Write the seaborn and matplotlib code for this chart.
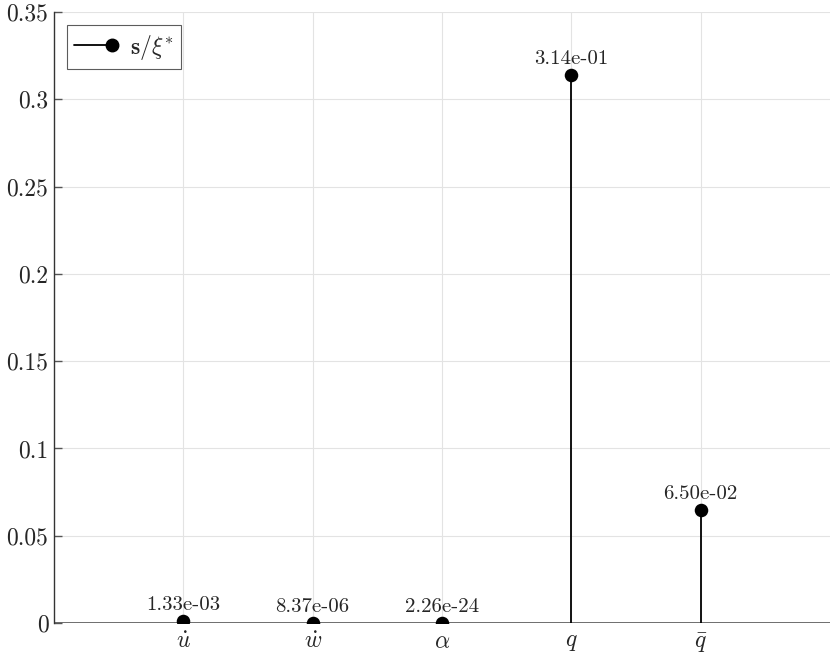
import matplotlib
matplotlib.use("Agg")
import matplotlib.pyplot as plt
from matplotlib.legend_handler import HandlerLine2D
from matplotlib.lines import Line2D
import numpy as np
import pandas as pd
import seaborn as sns


STATES = [r"$\dot{u}$", r"$\dot{w}$", r"$\alpha$", r"$q$", r"$\bar{q}$"]
POSITIONS = [1, 2, 3, 4, 5]
VALUES = [1.33e-03, 8.37e-06, 2.26e-24, 3.14e-01, 6.50e-02]
Y_TICKS = [0, 0.05, 0.1, 0.15, 0.2, 0.25, 0.3, 0.35]
Y_LABELS = ["0", "0.05", "0.1", "0.15", "0.2", "0.25", "0.3", "0.35"]


class EndMarkerHandler(HandlerLine2D):
    """Dibuja el marcador al final de la linea, como en MATLAB."""

    def create_artists(self, legend, orig_handle, xdescent, ydescent,
                       width, height, fontsize, trans):
        artists = super().create_artists(legend, orig_handle, xdescent, ydescent,
                                         width, height, fontsize, trans)
        line = artists[0]
        n = len(line.get_xdata())
        line.set_markevery([n - 1])
        return artists


sns.set_style("whitegrid")
plt.rcParams["font.family"] = ["serif"]
plt.rcParams["font.serif"] = ["cmr10", "DejaVu Serif"]
plt.rcParams["mathtext.fontset"] = "cm"
plt.rcParams["axes.formatter.use_mathtext"] = True

df = pd.DataFrame({"pos": POSITIONS, "value": VALUES})

fig = plt.figure(figsize=(8.3, 6.59), dpi=100)
ax = fig.add_axes([0.065, 0.0546, 0.935, 0.9272])

ax.vlines(df["pos"], 0, df["value"], color="black", linewidth=1.3, zorder=3)
sns.scatterplot(data=df, x="pos", y="value", color="black", s=95,
                edgecolor="black", linewidth=0, zorder=4, ax=ax, legend=False)
ax.axhline(0, color="#555555", linewidth=1.2, zorder=2)

for p, v in zip(POSITIONS, VALUES):
    ax.annotate(f"{v:.2e}", (p, v), xytext=(0, 5), textcoords="offset points",
                ha="center", va="bottom", fontsize=15)

ax.set_xlim(0, 6)
ax.set_ylim(0, 0.35)
ax.set_xticks(POSITIONS)
ax.set_xticklabels(STATES, fontsize=17)
ax.set_yticks(Y_TICKS)
ax.set_yticklabels(Y_LABELS, fontsize=17)
ax.set_xlabel("")
ax.set_ylabel("")
ax.grid(True, color="#e3e3e3", linewidth=0.8)
for side in ["top", "right", "bottom"]:
    ax.spines[side].set_visible(False)
ax.spines["left"].set_color("#333333")
ax.spines["left"].set_linewidth(1.0)
ax.tick_params(axis="y", direction="in", length=6, width=1.0, left=True,
               color="#555555", pad=4)
ax.tick_params(axis="x", length=0, pad=6)

handle = Line2D([0, 1], [0, 0], color="black", linewidth=1.3, marker="o",
                markersize=9)
legend = ax.legend([handle], [r"$\mathbf{s}/\xi^{*}$"], loc="upper left",
                   fontsize=17, numpoints=1, frameon=True, fancybox=False,
                   edgecolor="#333333", handlelength=1.6, handletextpad=0.75,
                   borderpad=0.3, borderaxespad=0.57,
                   handler_map={Line2D: EndMarkerHandler()})
legend.get_frame().set_linewidth(0.8)

fig.savefig("out.png", dpi=100)
